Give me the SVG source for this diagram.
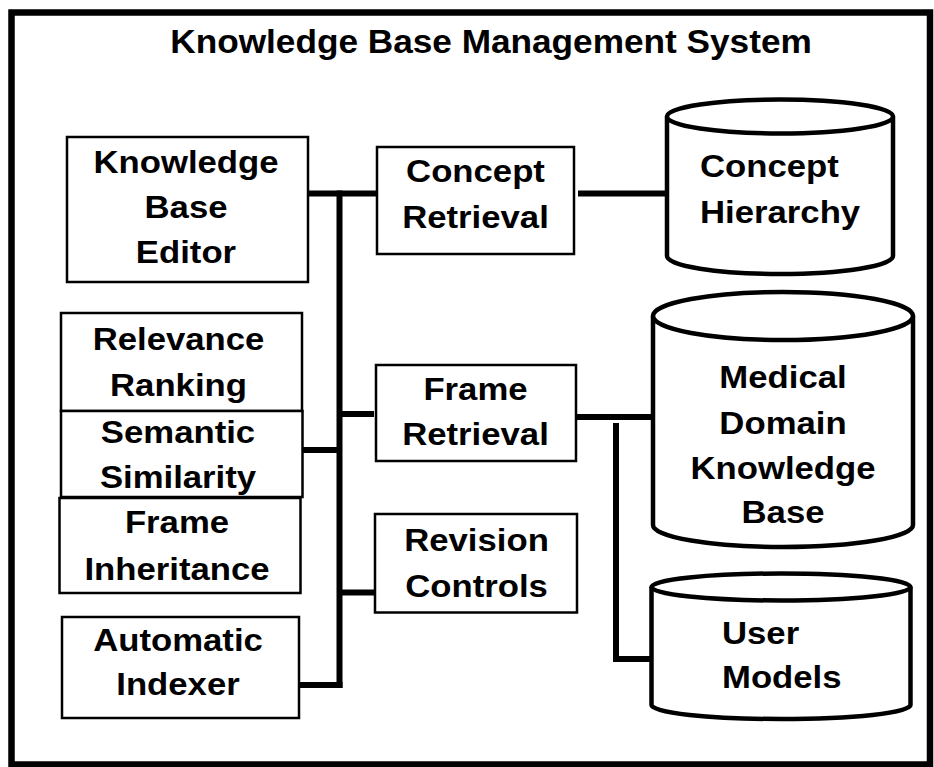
<svg xmlns="http://www.w3.org/2000/svg" width="934" height="767" viewBox="0 0 934 767">
  <style>
    text { font-family: "Liberation Sans", Arial, Helvetica, sans-serif; font-weight: bold; fill: #000; }
    .title { font-size: 33px; text-anchor: middle; }
    .lbl { font-size: 32px; text-anchor: middle; }
    .lbl-start { font-size: 32px; text-anchor: start; }
    .box { fill: #fff; stroke: #000; stroke-width: 2.5; }
    .db { fill: #fff; stroke: #000; stroke-width: 4.5; }
    .wire { fill: none; stroke: #000; stroke-width: 6; stroke-linecap: butt; stroke-linejoin: miter; }
  </style>

  <rect width="934" height="767" fill="#fff"/>

  <!-- outer frame -->
  <rect x="11.5" y="12.5" width="918.5" height="752" fill="none" stroke="#000" stroke-width="6.5"/>

  <text class="title" transform="translate(491 0) scale(1.067 1)" x="0" y="53">Knowledge Base Management System</text>

  <!-- connectors -->
  <g id="connectors">
    <path class="wire" d="M308,193.5 H376"/>
    <path class="wire" d="M339.5,190.5 V688"/>
    <path class="wire" d="M302,450 H339.5"/>
    <path class="wire" d="M339.5,414 H374"/>
    <path class="wire" d="M339.5,592.5 H374"/>
    <path class="wire" d="M299,685 H342.5"/>
    <path class="wire" d="M578,193.5 H667"/>
    <path class="wire" d="M577,417 H652"/>
    <path class="wire" d="M616,423 V659 H651"/>
  </g>

  <g id="kb-editor">
    <rect class="box" x="67" y="137" width="241" height="145"/>
    <text class="lbl" transform="translate(186 0) scale(1.085 1)"><tspan x="0" y="173">Knowledge</tspan><tspan x="0" y="218">Base</tspan><tspan x="0" y="263">Editor</tspan></text>
  </g>

  <g id="concept-retrieval">
    <rect class="box" x="377" y="147" width="197" height="107"/>
    <text class="lbl" transform="translate(475.5 0) scale(1.085 1)"><tspan x="0" y="182">Concept</tspan><tspan x="0" y="228">Retrieval</tspan></text>
  </g>

  <g id="concept-hierarchy">
    <path class="db" d="M667,116.5 V256 A113,18 0 0 0 893,256 V116.5"/>
    <ellipse class="db" cx="780" cy="116.5" rx="113" ry="17"/>
    <text class="lbl-start" transform="translate(700 0) scale(1.085 1)"><tspan x="0" y="177">Concept</tspan><tspan x="0" y="223">Hierarchy</tspan></text>
  </g>

  <g id="relevance-ranking">
    <rect class="box" x="61" y="313" width="241" height="98"/>
    <text class="lbl" transform="translate(178.5 0) scale(1.085 1)"><tspan x="0" y="350">Relevance</tspan><tspan x="0" y="396">Ranking</tspan></text>
  </g>

  <g id="semantic-similarity">
    <rect class="box" x="61" y="411" width="241.5" height="86"/>
    <text class="lbl" transform="translate(178 0) scale(1.085 1)"><tspan x="0" y="443">Semantic</tspan><tspan x="0" y="488">Similarity</tspan></text>
  </g>

  <g id="frame-inheritance">
    <rect class="box" x="59.5" y="498" width="241" height="95"/>
    <text class="lbl" transform="translate(177 0) scale(1.085 1)"><tspan x="0" y="533">Frame</tspan><tspan x="0" y="580">Inheritance</tspan></text>
  </g>

  <g id="automatic-indexer">
    <rect class="box" x="62" y="617" width="237" height="101"/>
    <text class="lbl" transform="translate(178 0) scale(1.085 1)"><tspan x="0" y="651">Automatic</tspan><tspan x="0" y="695">Indexer</tspan></text>
  </g>

  <g id="frame-retrieval">
    <rect class="box" x="376" y="365" width="200" height="96"/>
    <text class="lbl" transform="translate(475.5 0) scale(1.085 1)"><tspan x="0" y="400">Frame</tspan><tspan x="0" y="445">Retrieval</tspan></text>
  </g>

  <g id="revision-controls">
    <rect class="box" x="375" y="514" width="202" height="98.5"/>
    <text class="lbl" transform="translate(476.5 0) scale(1.085 1)"><tspan x="0" y="551">Revision</tspan><tspan x="0" y="597">Controls</tspan></text>
  </g>

  <g id="medical-domain-kb">
    <path class="db" d="M653,316 V525 A130,22 0 0 0 913,525 V316"/>
    <ellipse class="db" cx="783" cy="316" rx="130" ry="24"/>
    <text class="lbl" transform="translate(783 0) scale(1.085 1)"><tspan x="0" y="388">Medical</tspan><tspan x="0" y="434">Domain</tspan><tspan x="0" y="479">Knowledge</tspan><tspan x="0" y="523">Base</tspan></text>
  </g>

  <g id="user-models">
    <path class="db" d="M651.5,587 V705 A129.5,14 0 0 0 910.5,705 V587"/>
    <ellipse class="db" cx="781" cy="587" rx="129.5" ry="13.5"/>
    <text class="lbl-start" transform="translate(722 0) scale(1.085 1)"><tspan x="0" y="644">User</tspan><tspan x="0" y="688">Models</tspan></text>
  </g>
</svg>
